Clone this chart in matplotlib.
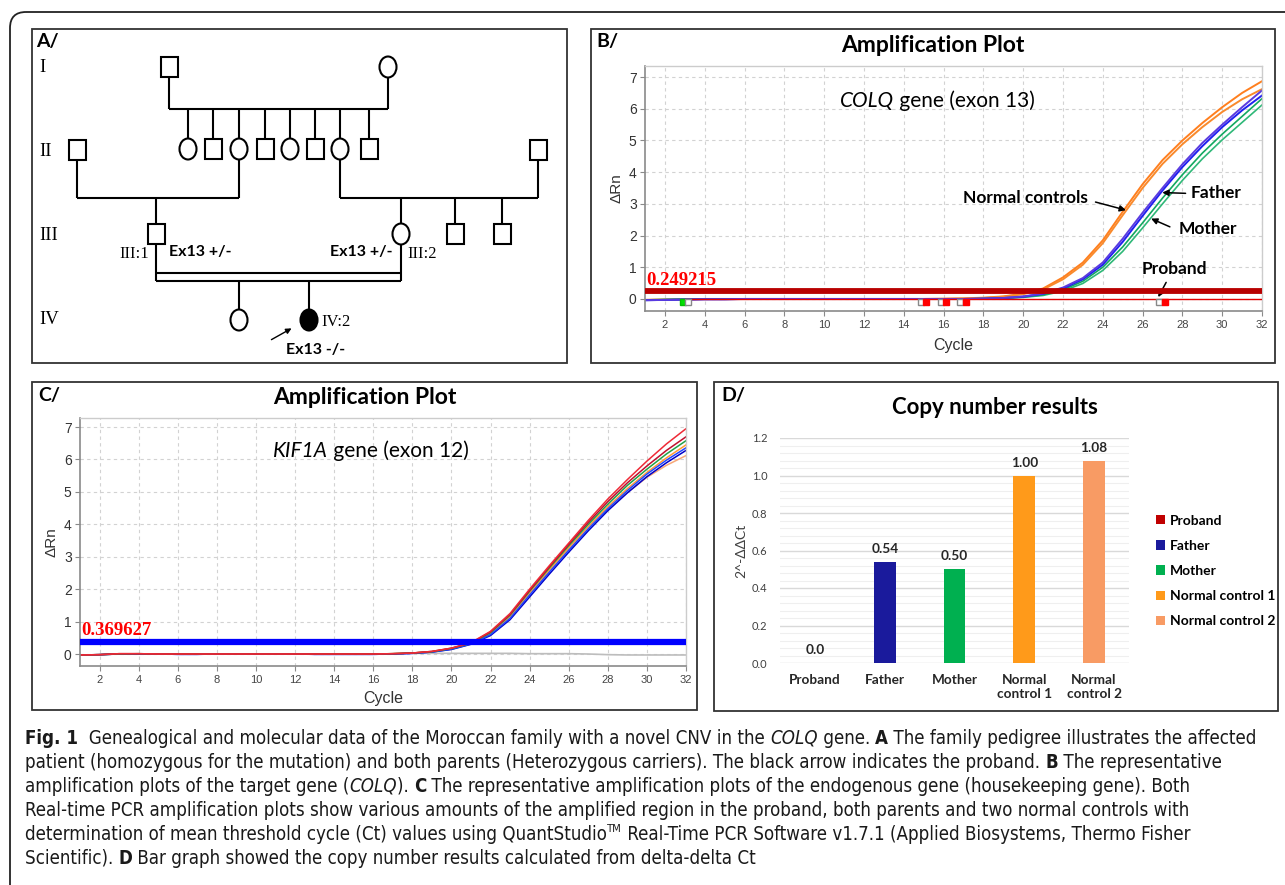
import matplotlib
matplotlib.use('Agg')
import matplotlib.pyplot as plt
import numpy as np
from matplotlib import font_manager
from matplotlib.patches import Rectangle, Ellipse, FancyBboxPatch
from matplotlib.ticker import FormatStrFormatter

W, H = 1285, 885

# ---------------- data ----------------
cycles = list(range(1, 33))

# B: COLQ exon 13, delta Rn per cycle
colq_nc1 = [-0.03, -0.02, -0.01, 0.0, 0.0, 0.0, 0.0, 0.0, 0.0, 0.0, 0.0, 0.0, 0.0, 0.0, 0.0, 0.01,
            0.02, 0.04, 0.08, 0.17, 0.33, 0.68, 1.15, 1.85, 2.75, 3.62, 4.38, 5.0, 5.55, 6.05, 6.5, 6.87]
colq_nc2 = [-0.03, -0.02, -0.01, 0.0, 0.0, 0.0, 0.0, 0.0, 0.0, 0.0, 0.0, 0.0, 0.0, 0.0, 0.0, 0.0,
            0.01, 0.03, 0.07, 0.15, 0.3, 0.62, 1.08, 1.76, 2.64, 3.5, 4.26, 4.88, 5.42, 5.9, 6.3, 6.62]
colq_father1 = [-0.04, -0.03, -0.02, -0.01, -0.01, 0.0, 0.0, 0.0, 0.0, 0.0, 0.0, 0.0, 0.0, 0.0, 0.0, 0.0,
                0.0, 0.01, 0.03, 0.08, 0.17, 0.36, 0.66, 1.15, 1.9, 2.72, 3.5, 4.25, 4.92, 5.5, 6.05, 6.58]
colq_father2 = [-0.04, -0.03, -0.02, -0.01, -0.01, 0.0, 0.0, 0.0, 0.0, 0.0, 0.0, 0.0, 0.0, 0.0, 0.0, 0.0,
                0.0, 0.01, 0.03, 0.07, 0.16, 0.33, 0.62, 1.08, 1.8, 2.62, 3.42, 4.16, 4.82, 5.42, 5.95, 6.42]
colq_mother1 = [-0.03, -0.02, -0.01, 0.0, 0.0, 0.0, 0.0, 0.0, 0.0, 0.0, 0.0, 0.0, 0.0, 0.0, 0.0, 0.0,
                0.0, 0.01, 0.02, 0.06, 0.13, 0.29, 0.56, 1.0, 1.64, 2.4, 3.18, 3.92, 4.6, 5.2, 5.76, 6.32]
colq_mother2 = [-0.03, -0.02, -0.01, 0.0, 0.0, 0.0, 0.0, 0.0, 0.0, 0.0, 0.0, 0.0, 0.0, 0.0, 0.0, 0.0,
                0.0, 0.01, 0.02, 0.05, 0.11, 0.25, 0.49, 0.9, 1.5, 2.24, 3.0, 3.74, 4.42, 5.02, 5.57, 6.12]
proband_cycles = cycles[2:]
colq_proband = [0.0, 0.0, 0.0, 0.0, 0.0, 0.0, 0.0, 0.0, 0.0, 0.0, 0.0, 0.0, 0.0, 0.0, 0.0,
                0.0, 0.0, 0.0, 0.0, 0.0, 0.0, 0.0, 0.0, 0.0, 0.0, 0.0, 0.0, 0.0, 0.0, 0.0]
colq_threshold = 0.249215
ct_green = [2.9]
ct_red = [15, 16, 17, 27]

# C: KIF1A exon 12 (endogenous gene)
kif_red1 = [-0.03, -0.02, 0.01, 0.01, 0.0, 0.0, 0.0, 0.0, 0.0, 0.0, 0.0, 0.0, 0.0, 0.0, 0.0, 0.0,
            0.01, 0.03, 0.08, 0.18, 0.35, 0.7, 1.25, 2.0, 2.72, 3.42, 4.12, 4.78, 5.38, 5.95, 6.48, 6.95]
kif_red2 = [-0.03, -0.02, 0.01, 0.01, 0.0, 0.0, 0.0, 0.0, 0.0, 0.0, 0.0, 0.0, 0.0, 0.0, 0.0, 0.0,
            0.01, 0.03, 0.08, 0.18, 0.34, 0.68, 1.22, 1.96, 2.68, 3.38, 4.06, 4.7, 5.28, 5.8, 6.28, 6.7]
kif_green = [-0.03, -0.02, 0.0, 0.01, 0.0, 0.0, 0.0, 0.0, 0.0, 0.0, 0.0, 0.0, 0.0, 0.0, 0.0, 0.0,
             0.01, 0.03, 0.07, 0.17, 0.33, 0.66, 1.2, 1.94, 2.65, 3.34, 4.0, 4.62, 5.2, 5.7, 6.17, 6.58]
kif_orange = [-0.03, -0.02, 0.0, 0.0, 0.0, 0.0, 0.0, 0.0, 0.0, 0.0, 0.0, 0.0, 0.0, 0.0, 0.0, 0.0,
              0.01, 0.03, 0.07, 0.17, 0.33, 0.64, 1.17, 1.9, 2.6, 3.28, 3.93, 4.54, 5.1, 5.6, 6.05, 6.45]
kif_blue1 = [-0.03, -0.02, 0.0, 0.0, 0.0, -0.01, -0.01, 0.0, 0.0, 0.0, 0.0, 0.0, -0.01, -0.01, -0.01, -0.01,
             0.0, 0.02, 0.06, 0.15, 0.31, 0.6, 1.1, 1.82, 2.52, 3.2, 3.86, 4.48, 5.04, 5.55, 5.98, 6.36]
kif_blue2 = [-0.03, -0.02, 0.0, 0.0, 0.0, -0.01, -0.01, 0.0, 0.0, 0.0, 0.0, 0.0, -0.01, -0.01, -0.01, -0.01,
             0.0, 0.02, 0.06, 0.14, 0.3, 0.57, 1.06, 1.76, 2.46, 3.14, 3.8, 4.42, 4.97, 5.47, 5.9, 6.28]
kif_salmon = [-0.03, -0.02, 0.0, 0.0, 0.0, 0.0, 0.0, 0.0, 0.0, 0.0, 0.0, 0.0, 0.0, 0.0, 0.0, 0.0,
              0.01, 0.03, 0.07, 0.16, 0.32, 0.62, 1.14, 1.86, 2.55, 3.22, 3.86, 4.45, 4.98, 5.45, 5.82, 6.12]
ntc_cycles = cycles[17:]
kif_ntc = [0.02, 0.02, 0.02, 0.02, 0.02, 0.02, 0.01, 0.01, 0.01, 0.0, -0.02, -0.03, -0.03, -0.03, -0.03]
kif_threshold = 0.369627

# D: copy number
samples = ['Proband', 'Father', 'Mother', 'Normal control 1', 'Normal control 2']
sample_ticks = ['Proband', 'Father', 'Mother', 'Normal\ncontrol 1', 'Normal\ncontrol 2']
copy_number = [0.0, 0.54, 0.50, 1.00, 1.08]
copy_labels = ['0.0', '0.54', '0.50', '1.00', '1.08']
bar_colors = ['#c00000', '#1a1a9c', '#00b050', '#ff9a1a', '#f89b64']

caption_lines = [
    [('Fig. 1', 'b'), ('  Genealogical and molecular data of the Moroccan family with a novel CNV in the ', 'r'),
     ('COLQ', 'i'), (' gene. ', 'r'), ('A', 'b'), (' The family pedigree illustrates the affected', 'r')],
    [('patient (homozygous for the mutation) and both parents (Heterozygous carriers). '
      'The black arrow indicates the proband. ', 'r'), ('B', 'b'), (' The representative', 'r')],
    [('amplification plots of the target gene (', 'r'), ('COLQ', 'i'), ('). ', 'r'), ('C', 'b'),
     (' The representative amplification plots of the endogenous gene (housekeeping gene). Both', 'r')],
    [('Real-time PCR amplification plots show various amounts of the amplified region in the proband, '
      'both parents and two normal controls with', 'r')],
    [('determination of mean threshold cycle (Ct) values using QuantStudio', 'r'), ('TM', 'sup'),
     (' Real-Time PCR Software v1.7.1 (Applied Biosystems, Thermo Fisher', 'r')],
    [('Scientific). ', 'r'), ('D', 'b'), (' Bar graph showed the copy number results calculated from delta-delta Ct', 'r')],
]

# ---------------- fonts ----------------
avail = {f.name for f in font_manager.fontManager.ttflist}
NARROW = 'Liberation Sans Narrow' if 'Liberation Sans Narrow' in avail else 'Liberation Sans'
CALI = 'Lato' if 'Lato' in avail else 'DejaVu Sans'
SERIF = 'Liberation Serif'
plt.rcParams['font.family'] = [CALI, 'DejaVu Sans']

# a condensed face for the caption, if one is installed
CAP_FAMILY, CAP_STRETCH = 'Liberation Sans', 'normal'
for f in font_manager.fontManager.ttflist:
    if f.style == 'normal' and f.weight in (400, 'normal', 'regular') and (
            'Narrow' in f.name or 'Condensed' in f.name or str(f.stretch) in ('condensed', 'semi-condensed')):
        CAP_FAMILY, CAP_STRETCH = f.name, f.stretch
        break

fig = plt.figure(figsize=(W / 100, H / 100), dpi=100)
bg = fig.add_axes([0, 0, 1, 1])
bg.set_xlim(0, W)
bg.set_ylim(H, 0)
bg.axis('off')


def px_axes(x0, y0, x1, y1):
    return fig.add_axes([x0 / W, 1 - y1 / H, (x1 - x0) / W, (y1 - y0) / H])


# outer frame and panel boxes
bg.add_patch(FancyBboxPatch((10, 12), 1400, 1000, boxstyle='round,pad=0,rounding_size=16',
                            fc='none', ec='#222222', lw=1.3))
for x0, y0, x1, y1 in [(32, 29, 567, 363), (591, 29, 1275, 363), (32, 382, 697, 710), (714, 382, 1278, 711)]:
    bg.add_patch(Rectangle((x0, y0), x1 - x0, y1 - y0, fc='none', ec='#333333', lw=1.3))

panel_kw = dict(fontsize=14, fontweight='bold', va='center', ha='left', color='black')
bg.text(36, 42, 'A/', **panel_kw)
bg.text(596, 42, 'B/', **panel_kw)
bg.text(38, 395, 'C/', **panel_kw)
bg.text(721, 396, 'D/', **panel_kw)

# ---------------- A: pedigree ----------------
LW = 1.5


def seg(xs, ys):
    bg.plot(xs, ys, color='black', lw=LW, solid_capstyle='butt')


def male(x, y, filled=False):
    bg.add_patch(Rectangle((x - 8.5, y - 10), 17, 20, fc='black' if filled else 'white', ec='black', lw=LW, zorder=3))


def female(x, y, filled=False):
    bg.add_patch(Ellipse((x, y), 17, 21, fc='black' if filled else 'white', ec='black', lw=LW, zorder=3))


# generation I
male(169, 67)
female(388, 67)
seg([169, 169], [77, 109])
seg([388, 388], [77, 109])
seg([169, 388], [109, 109])
# generation II sibship
sib_x = [188, 213, 239, 265, 290, 315, 340, 369]
sib_sex = ['F', 'M', 'F', 'M', 'F', 'M', 'F', 'M']
for x, s in zip(sib_x, sib_sex):
    seg([x, x], [109, 139])
    (female if s == 'F' else male)(x, 149)
male(77, 150)
male(538, 150)
seg([77, 77], [160, 198])
seg([77, 239], [198, 198])
seg([239, 239], [159, 198])
seg([340, 340], [159, 198])
seg([340, 538], [198, 198])
seg([538, 538], [160, 198])
# generation III
seg([156, 156], [198, 224])
male(156, 234)
for x, s in zip([401, 455, 502], ['F', 'M', 'M']):
    seg([x, x], [198, 224])
    (female if s == 'F' else male)(x, 234)
# consanguineous union
seg([156, 156], [244, 281])
seg([401, 401], [244, 281])
seg([156, 401], [273, 273])
seg([156, 401], [281, 281])
# generation IV
seg([239, 239], [281, 309])
seg([309, 309], [281, 309])
female(239, 320)
female(309, 320, filled=True)
bg.annotate('', xy=(294, 327), xytext=(269, 341),
            arrowprops=dict(arrowstyle='-|>', color='black', lw=1.0, mutation_scale=8))

for lbl, y in zip(['I', 'II', 'III', 'IV'], [68, 152, 236, 320]):
    bg.text(39, y, lbl, family=SERIF, fontsize=13.5, va='center', ha='left')
bg.text(149, 254, 'III:1', family=SERIF, fontsize=12, va='center', ha='right')
bg.text(407, 254, 'III:2', family=SERIF, fontsize=12, va='center', ha='left')
bg.text(321, 322, 'IV:2', family=SERIF, fontsize=12, va='center', ha='left')
bg.text(169, 252, 'Ex13 +/-', fontsize=11.5, fontweight='bold', va='center', ha='left')
bg.text(392, 252, 'Ex13 +/-', fontsize=11.5, fontweight='bold', va='center', ha='right')
bg.text(316, 350, 'Ex13 -/-', fontsize=11.5, fontweight='bold', va='center', ha='center')


# ---------------- amplification plot styling ----------------
def style_amp(ax, ylab_xy, xlab_xy, ylim):
    ax.set_xlim(1, 32)
    ax.set_ylim(*ylim)
    ax.set_xticks(range(2, 33, 2))
    ax.set_yticks(range(0, 8))
    ax.grid(True, color='#d2d2d2', lw=0.8, ls=(0, (3, 3)))
    ax.set_axisbelow(True)
    for s in ['top', 'right']:
        ax.spines[s].set_color('#cccccc')
        ax.spines[s].set_linewidth(1.0)
    for s in ['left', 'bottom']:
        ax.spines[s].set_color('#8a8a8a')
        ax.spines[s].set_linewidth(1.2)
    ax.tick_params(axis='both', length=3.5, width=0.8, color='#8a8a8a', direction='out')
    ax.tick_params(axis='x', labelsize=8, pad=3, labelcolor='#444444', labelfontfamily=NARROW)
    ax.tick_params(axis='y', labelsize=10, pad=2.5, labelcolor='#333333', labelfontfamily='Liberation Sans')
    ax.set_ylabel('ΔRn', family=['Liberation Sans', 'DejaVu Sans'], fontsize=11, color='#333333')
    ax.set_xlabel('Cycle', family=NARROW, fontsize=11.5, color='#333333')
    ax.yaxis.set_label_coords(*ylab_xy)
    ax.xaxis.set_label_coords(*xlab_xy)
    ax.yaxis.label.set_va('center')
    ax.xaxis.label.set_va('center')


# ---------------- B ----------------
bg.text(933, 46, 'Amplification Plot', fontsize=16.5, fontweight='bold', ha='center', va='center')
axB = px_axes(645, 66, 1262, 311)
style_amp(axB, (-0.047, 0.5), (0.5, -0.139), (-0.38, 7.35))
axB.plot(cycles, colq_nc1, color='#ff7f1e', lw=1.4)
axB.plot(cycles, colq_nc2, color='#f98a2c', lw=1.4)
axB.plot(cycles, colq_mother2, color='#2fb878', lw=1.2)
axB.plot(cycles, colq_mother1, color='#12a860', lw=1.2)
axB.plot(cycles, colq_father2, color='#2020f0', lw=1.4)
axB.plot(cycles, colq_father1, color='#5a3be0', lw=1.4)
axB.plot(proband_cycles, colq_proband, color='#e00000', lw=1.0, zorder=4)
axB.axhline(colq_threshold, color='#b80000', lw=4.2, zorder=5)
axB.plot(ct_green, [-0.09] * len(ct_green), 's', ms=5, mfc='#00e000', mec='#00c000', zorder=6, clip_on=False)
axB.plot([c + 0.28 for c in ct_green], [-0.09] * len(ct_green), 's', ms=5, mfc='white', mec='#888888',
         zorder=6, clip_on=False)
axB.plot([c - 0.15 for c in ct_red], [-0.09] * len(ct_red), 's', ms=5, mfc='white', mec='#888888', zorder=6)
axB.plot([c + 0.12 for c in ct_red], [-0.09] * len(ct_red), 's', ms=5, mfc='#ff0000', mec='#ff0000', zorder=6)
axB.text(1.05, colq_threshold + 0.08, f'{colq_threshold:.6f}', family=SERIF, fontsize=13.5, fontweight='bold',
         color='#ff0000', ha='left', va='bottom', zorder=7)
axB.text(13.5, 6.24, 'COLQ', fontsize=15, fontstyle='italic', ha='right', va='center')
axB.text(13.5, 6.24, ' gene (exon 13)', fontsize=15, ha='left', va='center')

note_kw = dict(fontsize=12.5, fontweight='bold', va='center', ha='center')
arrow_kw = dict(arrowstyle='-|>', color='black', lw=1.1, mutation_scale=9)
axB.text(20.1, 3.2, 'Normal controls', **note_kw)
axB.annotate('', xy=(25.3, 2.78), xytext=(23.5, 3.08), arrowprops=arrow_kw)
axB.text(29.7, 3.35, 'Father', **note_kw)
axB.annotate('', xy=(26.85, 3.36), xytext=(28.3, 3.33), arrowprops=arrow_kw)
axB.text(29.3, 2.22, 'Mother', **note_kw)
axB.annotate('', xy=(26.3, 2.57), xytext=(27.5, 2.24), arrowprops=arrow_kw)
axB.text(27.6, 0.94, 'Proband', **note_kw)
axB.annotate('', xy=(26.72, -0.02), xytext=(27.25, 0.6), arrowprops=arrow_kw)

# ---------------- C ----------------
bg.text(365, 398, 'Amplification Plot', fontsize=16.5, fontweight='bold', ha='center', va='center')
axC = px_axes(80, 418, 686, 666)
style_amp(axC, (-0.047, 0.5), (0.5, -0.133), (-0.37, 7.28))
axC.plot(ntc_cycles, kif_ntc, color='#bdbdbd', lw=1.2)
for vals, col in [(kif_salmon, '#f7a878'), (kif_orange, '#ff9a33'), (kif_blue2, '#0000c8'),
                  (kif_blue1, '#2046ff'), (kif_green, '#20a048'), (kif_red2, '#c0102e'), (kif_red1, '#ee2a36')]:
    axC.plot(cycles, vals, color=col, lw=1.1)
axC.axhline(kif_threshold, color='#0000ff', lw=4.5, zorder=5)
axC.text(1.05, kif_threshold + 0.08, f'{kif_threshold:.6f}', family=SERIF, fontsize=13.5, fontweight='bold',
         color='#ff0000', ha='left', va='bottom', zorder=7)
axC.text(13.7, 6.27, 'KIF1A', fontsize=15, fontstyle='italic', ha='right', va='center')
axC.text(13.7, 6.27, ' gene (exon 12)', fontsize=15, ha='left', va='center')

# ---------------- D ----------------
bg.text(995, 408, 'Copy number results', fontsize=16, fontweight='bold', ha='center', va='center')
axD = px_axes(780, 438, 1129, 663)
bars = axD.bar(range(len(samples)), copy_number, width=0.31, color=bar_colors, zorder=3)
axD.set_xlim(-0.5, 4.5)
axD.set_ylim(0, 1.2)
axD.set_yticks(np.arange(0, 1.21, 0.2))
axD.set_yticks(np.arange(0, 1.2, 0.04), minor=True)
axD.yaxis.set_major_formatter(FormatStrFormatter('%.1f'))
axD.grid(True, which='major', axis='y', color='#d9d9d9', lw=1.0)
axD.grid(True, which='minor', axis='y', color='#efefef', lw=0.8)
axD.set_axisbelow(True)
for s in axD.spines.values():
    s.set_visible(False)
axD.tick_params(which='both', length=0)
axD.tick_params(axis='y', labelsize=8, labelcolor='#404040', pad=9)
axD.set_xticks(range(len(samples)))
axD.set_xticklabels(sample_ticks, fontsize=9.8, fontweight='bold', color='#262626', linespacing=1.15)
axD.tick_params(axis='x', pad=8)
for i, (v, s) in enumerate(zip(copy_number, copy_labels)):
    axD.annotate(s, (i, v), xytext=(0, 5), textcoords='offset points', ha='center', va='bottom',
                 fontsize=9.8, fontweight='bold', color='#262626', annotation_clip=False)
axD.set_ylabel('2^-ΔΔCt', family=[CALI, 'DejaVu Sans'], fontsize=10, color='#404040')
axD.yaxis.set_label_coords(-0.11, 0.5)
axD.yaxis.label.set_va('center')
axD.legend(bars.patches, samples, loc='center left', bbox_to_anchor=(1156 / W, 1 - 571 / H),
           bbox_transform=fig.transFigure, frameon=False, borderpad=0, borderaxespad=0,
           handlelength=0.65, handleheight=0.65, handletextpad=0.35, labelspacing=0.95,
           prop=dict(family=CALI, weight='bold', size=10))

# ---------------- caption ----------------
CAP = [CAP_FAMILY, 'DejaVu Sans']
rend = fig.canvas.get_renderer()
probe = bg.text(0, 0, ''.join(p[0] for p in caption_lines[0]), fontsize=10, family=CAP, fontstretch=CAP_STRETCH)
cap_size = 10 * 1228 / probe.get_window_extent(renderer=rend).width
probe.remove()


def draw_rich(x, y, parts, size):
    base = prev = None
    for text, st in parts:
        kw = dict(fontsize=size, family=CAP, fontstretch=CAP_STRETCH, color='#1a1a1a')
        if st == 'b':
            kw['fontweight'] = 'bold'
        if st == 'i':
            kw['fontstyle'] = 'italic'
        if base is None:
            base = prev = bg.text(x, y, text, va='baseline', ha='left', **kw)
        elif st == 'sup':
            kw['fontsize'] = size * 0.6
            prev = bg.annotate(text, xy=(1, 0.55), xycoords=(prev, base), va='bottom', ha='left', **kw)
        else:
            prev = bg.annotate(text, xy=(1, 0), xycoords=(prev, base), va='bottom', ha='left', **kw)


for k, parts in enumerate(caption_lines):
    draw_rich(25, 744 + 24 * k, parts, cap_size)

fig.savefig('out.png', dpi=100)
